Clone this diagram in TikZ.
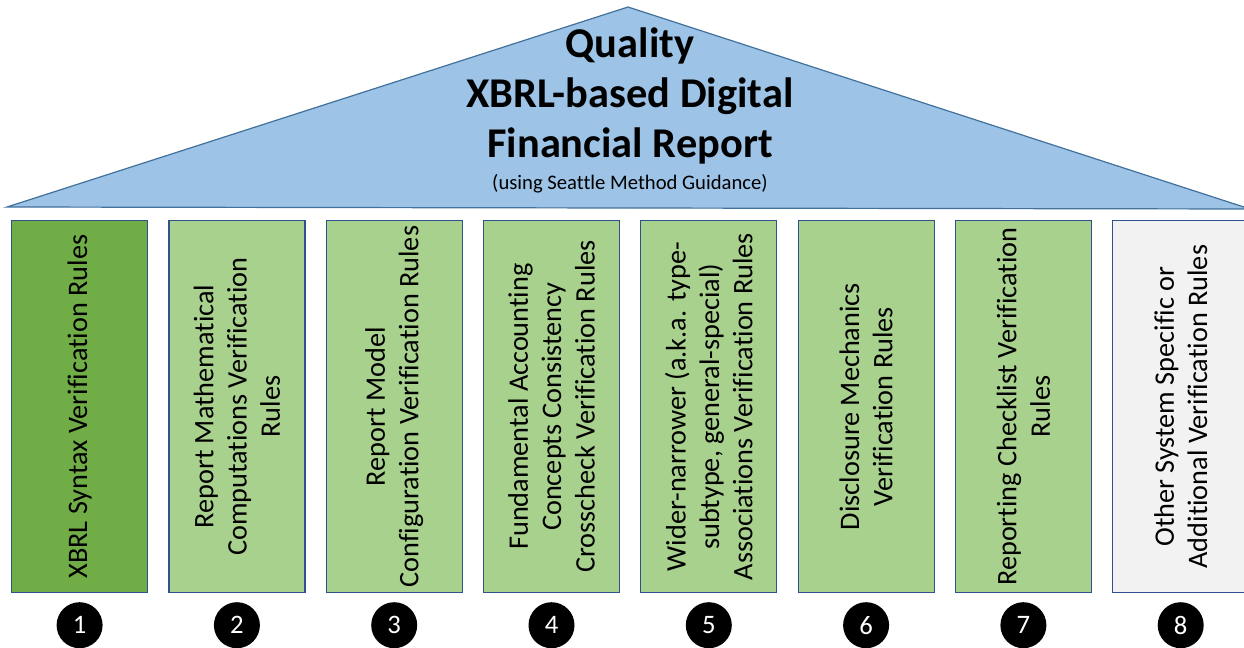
\documentclass[tikz,border=0pt]{standalone}
\usepackage{fontspec}
\setmainfont{Carlito}[Ligatures={NoCommon}]
\usetikzlibrary{calc}
\definecolor{roofblue}{HTML}{9DC3E6}
\definecolor{roofline}{HTML}{41719C}
\definecolor{pillline}{HTML}{2F528F}
\definecolor{darkgreen}{HTML}{70AD47}
\definecolor{lightgreen}{HTML}{A9D18E}
\definecolor{lightgray}{HTML}{F2F2F2}
\begin{document}
\begin{tikzpicture}[x=0.75pt,y=-0.75pt,
  pillar/.style={draw=pillline, line width=0.9pt, minimum width=102pt, minimum height=279pt, inner sep=0pt, anchor=north west},
  ptext/.style={rotate=90, align=center, font=\fontsize{21.2}{25}\selectfont, text=black},
  numcirc/.style={circle, fill=black, minimum size=34.5pt, inner sep=0pt, text=white, font=\fontsize{20}{22}\selectfont}
]
\useasboundingbox (0,0) rectangle (1244,648);
% roof
\coordinate (rl) at (7,207);
\coordinate (ra) at (628,7);
\coordinate (rr) at (1250,209);
\draw[fill=roofblue, draw=roofline, line width=0.9pt] (rl) -- (ra) -- (rr) -- cycle;
\node[align=center, font=\fontsize{31.8}{37.5}\selectfont\bfseries] (title) at (630,96) {Quality\\XBRL-based Digital\\Financial Report};
\node[font=\fontsize{15.5}{17}\selectfont] (sub) at (630,184) {(using Seattle Method Guidance)};
% pillars
\node[pillar, fill=darkgreen] (p1) at (11,220) {};
\node[pillar, fill=lightgreen] (p2) at (168.3,220) {};
\node[pillar, fill=lightgreen] (p3) at (325.6,220) {};
\node[pillar, fill=lightgreen] (p4) at (482.9,220) {};
\node[pillar, fill=lightgreen] (p5) at (640.2,220) {};
\node[pillar, fill=lightgreen] (p6) at (797.5,220) {};
\node[pillar, fill=lightgreen] (p7) at (954.8,220) {};
\node[pillar, fill=lightgray] (p8) at (1112.1,220) {};
\node[ptext] (t1) at (p1.center) {XBRL Syntax Verification Rules};
\node[ptext] (t2) at (p2.center) {Report Mathematical\\Computations Verification\\Rules};
\node[ptext] (t3) at (p3.center) {Report Model\\Configuration Verification Rules};
\node[ptext] (t4) at (p4.center) {Fundamental Accounting\\Concepts Consistency\\Crosscheck Verification Rules};
\node[ptext] (t5) at (p5.center) {Wider-narrower (a.k.a. type-\\subtype, general-special)\\Associations Verification Rules};
\node[ptext] (t6) at (p6.center) {Disclosure Mechanics\\Verification Rules};
\node[ptext] (t7) at (p7.center) {Reporting Checklist Verification\\Rules};
\node[ptext] (t8) at (p8.center) {Other System Specific or\\Additional Verification Rules};
% numbers
\foreach \i in {1,...,8} {
  \node[numcirc] (c\i) at ($(p\i.south)+(0,32)$) {\i};
}
\end{tikzpicture}
\end{document}
